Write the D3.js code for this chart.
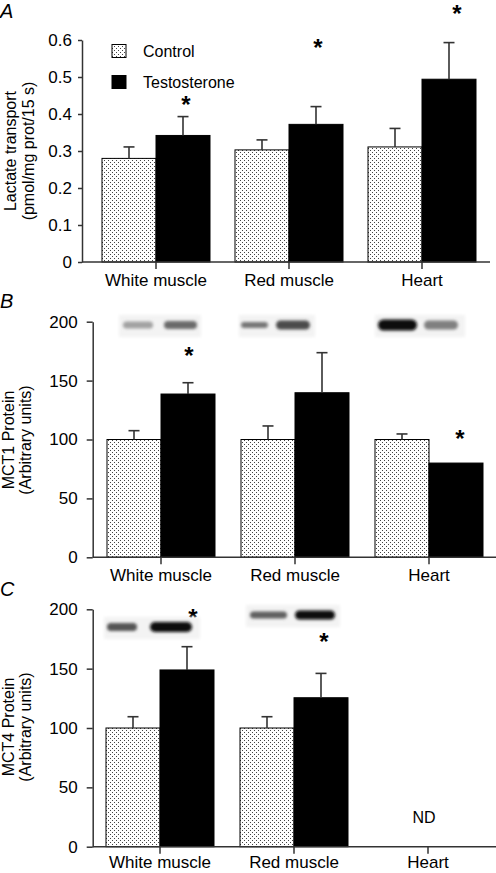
<!DOCTYPE html>
<html><head><meta charset="utf-8">
<script src="https://cdn.jsdelivr.net/npm/d3@7"></script>
<style>
html,body{margin:0;padding:0;background:#fff;}
svg{display:block;font-family:"Liberation Sans",Arial,sans-serif;}
</style></head>
<body>
<svg id="chart" width="496" height="873"></svg>
<script>
// ---------- data ----------
const categories = ["White muscle", "Red muscle", "Heart"];
const seriesNames = ["Control", "Testosterone"];

const lactateControl    = [0.280, 0.303, 0.311];
const lactateControlErr = [0.031, 0.027, 0.050];
const lactateTesto      = [0.342, 0.372, 0.494];
const lactateTestoErr   = [0.051, 0.048, 0.099];
const lactateTicks      = [0, 0.1, 0.2, 0.3, 0.4, 0.5, 0.6];

const mct1Control    = [100, 100, 100];
const mct1ControlErr = [7.5, 11.5, 4.7];
const mct1Testo      = [138.6, 139.7, 80];
const mct1TestoErr   = [9.6, 34, 0];

const mct4Control    = [100, 100, null];
const mct4ControlErr = [9.5, 9.5, null];
const mct4Testo      = [148.9, 125.5, null];
const mct4TestoErr   = [19.6, 20.5, null];
const proteinTicks   = [0, 50, 100, 150, 200];

// significance markers: category index and value level
const starsA = [{c:0, v:0.438, dx:3}, {c:1, v:0.591, dx:2}, {c:2, v:0.684, dx:8}];
const starsB = [{c:0, v:175, dx:1}, {c:1, v:197, dx:-27}, {c:2, v:105, dx:4}];
const starsC = [{c:0, v:197, dx:6}, {c:1, v:177, dx:3}];

// western blot band darkness (0..1) control/testosterone
const blotsB = [[0.30, 0.55], [0.50, 0.70], [1.0, 0.45]];
const blotsC = [[0.65, 1.0], [0.60, 1.0], null];

// ---------- drawing ----------
const svg = d3.select("#chart");
const FONT = 16, TFONT = 17;
const defs = svg.append("defs");
const pat = defs.append("pattern").attr("id","dots").attr("width",4).attr("height",4)
  .attr("patternUnits","userSpaceOnUse");
pat.append("rect").attr("width",4).attr("height",4).attr("fill","#fff");
pat.append("rect").attr("x",0).attr("y",0).attr("width",1).attr("height",1).attr("fill","#444");
pat.append("rect").attr("x",2).attr("y",2).attr("width",1).attr("height",1).attr("fill","#444");
defs.append("filter").attr("id","blur").attr("x","-30%").attr("y","-100%").attr("width","160%").attr("height","300%")
  .append("feGaussianBlur").attr("stdDeviation",1.8);

const fill = s => s === "Control" ? "url(#dots)" : "#000";

function panel(cfg) {
  const g = svg.append("g");
  const x = d3.scaleBand().domain(categories).range(cfg.xRange);
  const xi = d3.scaleBand().domain(seriesNames).range([-cfg.bw, cfg.bw]);
  const y = d3.scaleLinear().domain([0, cfg.yMax]).range(cfg.yRange);

  // y axis
  const ya = g.append("g").attr("transform",`translate(${cfg.axisX},0)`)
    .call(d3.axisLeft(y).tickValues(cfg.ticks).tickSize(cfg.tick).tickSizeOuter(0).tickPadding(cfg.tickPad)
      .tickFormat(cfg.fmt));
  ya.select(".domain").attr("stroke","#333").attr("stroke-width",1.5);
  ya.selectAll(".tick line").attr("stroke","#333").attr("stroke-width",1.5);
  ya.selectAll("text").attr("font-size",TFONT).attr("fill","#000").attr("font-family","Liberation Sans, Arial, sans-serif");

  // bars
  const rows = [];
  categories.forEach((c,i) => {
    cfg.series.forEach((arr, si) => {
      if (arr[0][i] != null) rows.push({cat:c, s:seriesNames[si], v:arr[0][i], e:arr[1][i]});
    });
  });
  g.selectAll("rect.bar").data(rows).join("rect").attr("class","bar")
    .attr("x", d => x(d.cat) + x.bandwidth()/2 + xi(d.s))
    .attr("width", xi.bandwidth())
    .attr("y", d => y(d.v))
    .attr("height", d => y(0) - y(d.v))
    .attr("fill", d => fill(d.s))
    .attr("stroke","#000").attr("stroke-width",1);
  // error bars
  const eb = rows.filter(d => d.e > 0);
  const cx = d => x(d.cat) + x.bandwidth()/2 + xi(d.s) + xi.bandwidth()/2;
  g.selectAll("line.err").data(eb).join("line").attr("class","err")
    .attr("x1",cx).attr("x2",cx).attr("y1",d=>y(d.v)).attr("y2",d=>y(d.v+d.e))
    .attr("stroke","#333").attr("stroke-width",1.6);
  g.selectAll("line.cap").data(eb).join("line").attr("class","cap")
    .attr("x1",d=>cx(d)-5.5).attr("x2",d=>cx(d)+5.5).attr("y1",d=>y(d.v+d.e)).attr("y2",d=>y(d.v+d.e))
    .attr("stroke","#333").attr("stroke-width",1.6);

  // x axis
  g.append("line").attr("x1",cfg.axisX).attr("x2",cfg.xEnd).attr("y1",y(0)).attr("y2",y(0))
    .attr("stroke","#333").attr("stroke-width",1.5);
  const xa = g.append("g").attr("transform",`translate(0,${y(0)})`)
    .call(d3.axisBottom(x).tickSize(7).tickSizeOuter(0).tickPadding(cfg.xPad));
  xa.select(".domain").remove();
  xa.selectAll(".tick line").attr("stroke","#333").attr("stroke-width",1.5);
  xa.selectAll("text").attr("font-size",TFONT).attr("fill","#000").attr("font-family","Liberation Sans, Arial, sans-serif");

  // stars
  const starX = st => x(categories[st.c]) + x.bandwidth()/2 + xi("Testosterone") + xi.bandwidth()/2 + st.dx;
  g.selectAll("text.star").data(cfg.stars).join("text").attr("class","star")
    .attr("x", starX).attr("y", d => y(d.v) + 13)
    .attr("text-anchor","middle").attr("font-size",24).attr("font-weight","bold").text("*");

  // y label
  const yl = g.append("g").attr("transform",`translate(0,${cfg.labelY})`);
  cfg.yLabel.forEach((t,k) => {
    yl.append("text").attr("transform",`translate(${cfg.labelX[k]},0) rotate(-90)`)
      .attr("dy","0.35em").attr("text-anchor","middle").attr("font-size",FONT).text(t);
  });
  // panel letter
  g.append("text").attr("x",cfg.letterPos[0]).attr("y",cfg.letterPos[1])
    .attr("font-size",20).attr("font-style","italic").text(cfg.letter);

  // blots
  if (cfg.blots) {
    cfg.blots.forEach((b,i) => {
      if (!b) return;
      const L = cfg.blotLayout[i];
      const cxm = x(categories[i]) + x.bandwidth()/2;
      const bg = g.append("g");
      bg.append("rect").attr("x",cxm+L.bg[0]).attr("width",L.bg[1]).attr("y",L.y-10).attr("height",22)
        .attr("fill","#f3f3f3").attr("filter","url(#blur)");
      b.forEach((dark,k) => {
        const band = L.bands[k];
        const gray = Math.round(225 - dark*215);
        bg.append("rect").attr("x",cxm+band[0]).attr("width",band[1])
          .attr("y",L.y - band[2]/2).attr("height",band[2]).attr("rx",band[2]/2)
          .attr("fill",`rgb(${gray},${gray},${gray})`).attr("filter","url(#blur)");
      });
    });
  }
  return {g, x, y};
}

const fmtA = d => d === 0 ? "0" : d.toFixed(1);

// Panel A
const pA = panel({
  letter:"A", letterPos:[0,18],
  xRange:[89.5,488.5], xEnd:490, axisX:82, bw:54, xPad:5,
  yMax:0.6, yRange:[262,40], ticks:lactateTicks, tick:4, tickPad:6, fmt:fmtA,
  series:[[lactateControl,lactateControlErr],[lactateTesto,lactateTestoErr]],
  stars:starsA,
  yLabel:["Lactate transport","(pmol/mg prot/15 s)"], labelX:[10,28], labelY:151
});
// legend
const leg = pA.g.append("g");
seriesNames.forEach((s,i) => {
  const yy = [51, 82][i];
  leg.append("rect").attr("x",112).attr("y",yy-6.5).attr("width",14).attr("height",13)
    .attr("fill",fill(s)).attr("stroke","#000").attr("stroke-width",1);
  leg.append("text").attr("x",143).attr("y",yy).attr("dy","0.35em").attr("font-size",FONT).text(s);
});

// Panel B
panel({
  letter:"B", letterPos:[0,308],
  xRange:[94,496], xEnd:496, axisX:92.7, bw:54, xPad:5,
  yMax:200, yRange:[557.3,321.7], ticks:proteinTicks, tick:6, tickPad:9, fmt:d3.format("d"),
  series:[[mct1Control,mct1ControlErr],[mct1Testo,mct1TestoErr]],
  stars:starsB,
  yLabel:["MCT1 Protein","(Arbitrary units)"], labelX:[8,25], labelY:440,
  blots:blotsB,
  blotLayout:[
    {y:325, bg:[-42,82], bands:[[-38,30,7],[3,33,8]]},
    {y:325, bg:[-56,76], bands:[[-54,27,6],[-19,34,9]]},
    {y:325, bg:[-54,90], bands:[[-51,39,11],[-5,34,9]]}
  ]
});

// Panel C
const pC = panel({
  letter:"C", letterPos:[0,596],
  xRange:[93,495], xEnd:496, axisX:92.7, bw:54, xPad:2.5,
  yMax:200, yRange:[846.7,609.3], ticks:proteinTicks, tick:6, tickPad:9, fmt:d3.format("d"),
  series:[[mct4Control,mct4ControlErr],[mct4Testo,mct4TestoErr]],
  stars:starsC,
  yLabel:["MCT4 Protein","(Arbitrary units)"], labelX:[8,25], labelY:727,
  blots:blotsC,
  blotLayout:[
    {y:627, bg:[-56,96], bands:[[-53,30,8],[-10,42,10]]},
    {y:615, bg:[-48,94], bands:[[-44,37,7],[1,40,9]]}
  ]
});
pC.g.append("text").attr("x", pC.x("Heart") + pC.x.bandwidth()/2 - 4).attr("y", pC.y(25))
  .attr("dy","0.35em").attr("text-anchor","middle").attr("font-size",FONT).text("ND");
</script>
</body></html>
